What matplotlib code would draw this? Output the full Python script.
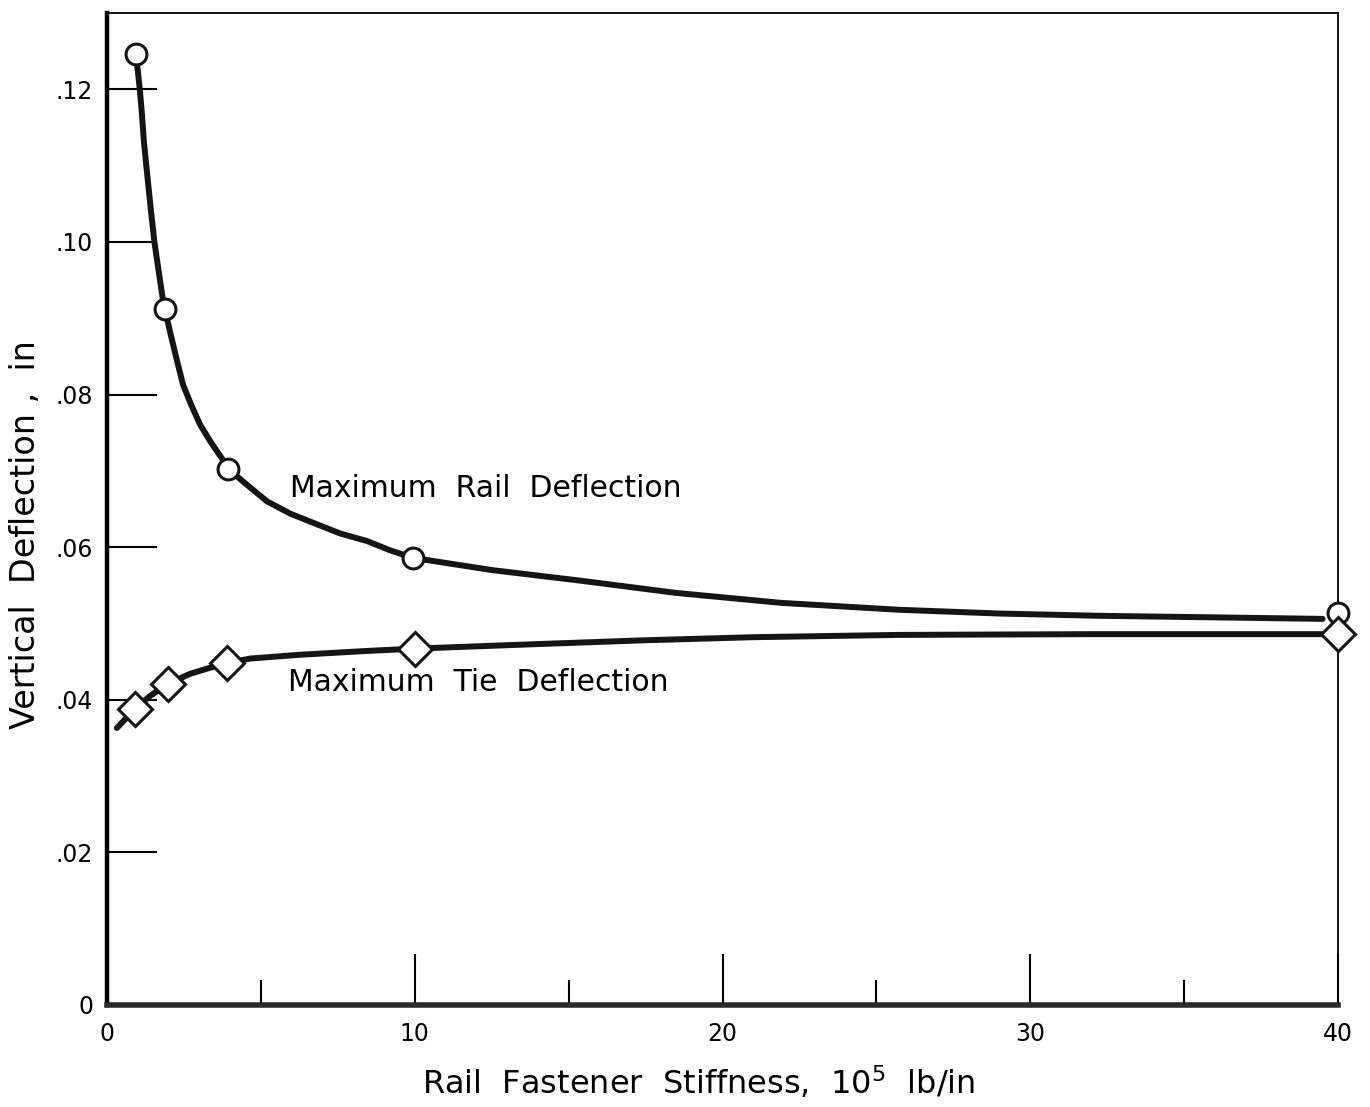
import matplotlib
matplotlib.use("Agg")
from matplotlib import pyplot as plt

# measured points (circles / diamonds)
rail_x = [0.93, 1.88, 3.93, 9.94, 40]
rail_y = [0.1246, 0.0912, 0.0703, 0.0586, 0.0514]
tie_x = [0.91, 1.98, 3.9, 10.0, 40]
tie_y = [0.0388, 0.0421, 0.0448, 0.0467, 0.0486]

# hand-drawn curves
rail_curve_x = [0.93, 1.00, 1.07, 1.13, 1.20, 1.31, 1.42, 1.54, 1.70, 1.81, 1.88, 2.05,
                2.24, 2.47, 2.73, 3.02, 3.35, 3.74, 3.93, 4.48, 5.20, 5.95, 6.82, 7.57,
                8.45, 9.19, 9.94, 12.5, 15.4, 18.5, 21.9, 25.7, 29.0, 32.3, 36.0, 39.5]
rail_curve_y = [0.1246, 0.1225, 0.1198, 0.1170, 0.1131, 0.1087, 0.1044, 0.1000, 0.0956,
                0.0926, 0.0912, 0.0882, 0.0850, 0.0813, 0.0787, 0.0761, 0.0739, 0.0716,
                0.0703, 0.0684, 0.0660, 0.0644, 0.0630, 0.0618, 0.0608, 0.0596, 0.0586,
                0.0570, 0.0556, 0.0540, 0.0527, 0.0518, 0.0513, 0.0510, 0.0508, 0.0506]
tie_curve_x = [0.32, 0.91, 1.40, 1.98, 2.70, 3.35, 3.9, 4.65, 5.62, 6.27, 8.45, 10.0,
               14.0, 17.5, 21.0, 25.7, 32.0, 39.5]
tie_curve_y = [0.0363, 0.0388, 0.0405, 0.0421, 0.0434, 0.0442, 0.0448, 0.0454, 0.0457,
               0.0459, 0.0464, 0.0467, 0.0473, 0.0478, 0.0482, 0.0485, 0.0486, 0.0486]

y_ticks = [0, 0.02, 0.04, 0.06, 0.08, 0.10, 0.12]
y_tick_labels = ["0", ".02", ".04", ".06", ".08", ".10", ".12"]
x_ticks = [0, 10, 20, 30, 40]
x_minor = [5, 15, 25, 35]

fig = plt.figure(figsize=(13.7, 11.07), dpi=100)
ax = fig.add_axes([107 / 1370, 1 - 1005 / 1107, 1231 / 1370, 992 / 1107])

ink = "#151515"
ax.plot(rail_curve_x, rail_curve_y, color=ink, lw=4.3, solid_capstyle="round",
        solid_joinstyle="round", zorder=2)
ax.plot(tie_curve_x, tie_curve_y, color=ink, lw=4.3, solid_capstyle="round",
        solid_joinstyle="round", zorder=2)
ax.plot(rail_x, rail_y, "o", ms=15, mfc="white", mec=ink, mew=2.2, clip_on=False, zorder=3)
ax.plot(tie_x, tie_y, "D", ms=17, mfc="white", mec=ink, mew=2.2, clip_on=False, zorder=3)

ax.text(5.95, 0.0677, "Maximum  Rail  Deflection", fontsize=21.5, va="center", ha="left")
ax.text(5.88, 0.0422, "Maximum  Tie  Deflection", fontsize=21.5, va="center", ha="left")

ax.set_xlim(0, 40)
ax.set_ylim(0, 0.13)
ax.set_xticks(x_ticks)
ax.set_xticks(x_minor, minor=True)
ax.set_yticks(y_ticks)
ax.set_yticklabels(y_tick_labels)
ax.tick_params(axis="y", direction="in", length=36, width=1.5, labelsize=17, pad=10)
ax.tick_params(axis="x", which="major", direction="in", length=37, width=1.5,
               labelsize=17, pad=12)
ax.tick_params(axis="x", which="minor", direction="in", length=18, width=1.5)
ax.tick_params(right=False, top=False)

ax.spines["left"].set_linewidth(3.2)
ax.spines["bottom"].set_linewidth(4)
ax.spines["bottom"].set_color("#2a2a2a")
ax.spines["top"].set_linewidth(1.3)
ax.spines["right"].set_linewidth(1.3)

ax.set_xlabel("Rail  Fastener  Stiffness,  10$^5$  lb/in", fontsize=23)
ax.set_ylabel("Vertical  Deflection ,  in", fontsize=24)
ax.xaxis.set_label_coords(0.481, -0.060)
ax.yaxis.set_label_coords(-0.053, 0.474)

fig.savefig("out.png", dpi=100)
